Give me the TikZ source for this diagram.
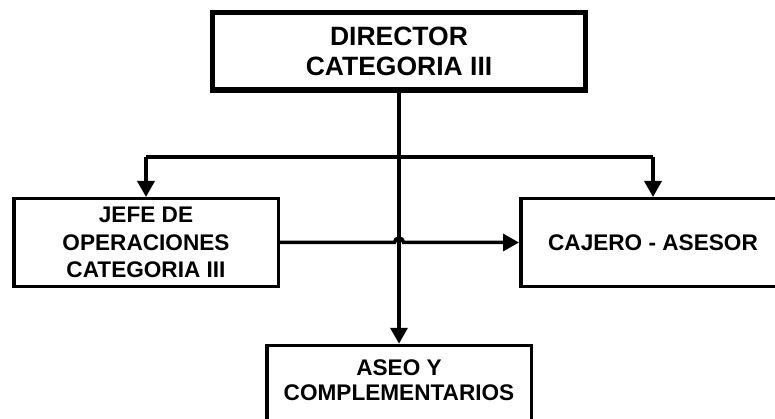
\documentclass[tikz,border=0pt]{standalone}
\usepackage{fontspec}
\setmainfont{Liberation Sans}
\usetikzlibrary{arrows.meta}

\tikzset{
  orgbox/.style={draw=black, line width=3.5pt, fill=white, align=center,
    inner sep=0pt, minimum width=264.5pt, minimum height=87.5pt,
    font=\fontsize{22.6}{27.5}\selectfont\bfseries},
  headbox/.style={orgbox, line width=5.5pt, minimum width=373pt,
    minimum height=77.5pt, font=\fontsize{26.5}{30}\selectfont\bfseries},
  plaintext/.style={align=center, inner sep=0pt,
    font=\fontsize{22.6}{25}\selectfont\bfseries},
  link/.style={line width=3.5pt},
  linkarrow/.style={link, -{Triangle[length=16pt,width=17pt]}},
}

\begin{document}
\begin{tikzpicture}[x=1pt, y=-1pt]
  \useasboundingbox (0,0) rectangle (775,419);

  % boxes
  \node[headbox] (dir) at (399,51.25) {DIRECTOR\\CATEGORIA III};
  \node[orgbox] (jefe) at (146,242.5) {JEFE DE\\OPERACIONES\\CATEGORIA III};
  \node[orgbox] (caj) at (653,242.5) {CAJERO - ASESOR};
  \node[orgbox, anchor=north] (aseo) at (399,343.75) {};
  \node[plaintext] (aseotxt) at (399,380) {ASEO Y\\COMPLEMENTARIOS};

  % connectors
  \coordinate (split) at (399,157);
  \coordinate (hop) at (394.5,242.5);
  \draw[linkarrow] (dir.south) -- (aseo.north);
  \draw[link] (jefe.north |- split) -- (caj.north |- split);
  \draw[linkarrow] (jefe.north |- split) -- (jefe.north);
  \draw[linkarrow] (caj.north |- split) -- (caj.north);
  \draw[linkarrow] (jefe.east) -- (hop) arc (180:360:4.5) -- (caj.west);
\end{tikzpicture}
\end{document}
